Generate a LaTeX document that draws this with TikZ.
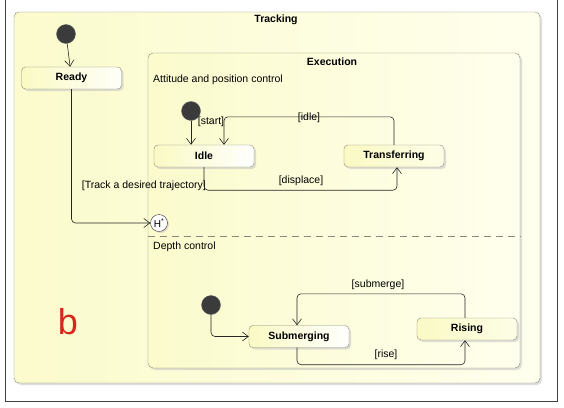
\documentclass[tikz,border=0pt]{standalone}
\usepackage{fontspec}
\setmainfont{Liberation Sans}
\usetikzlibrary{arrows.meta,shadows,calc}
\definecolor{frameline}{HTML}{404040}
\definecolor{boxline}{HTML}{8A8A7A}
\definecolor{yel}{HTML}{FAFAC4}
\definecolor{yelbg}{HTML}{FFFFE6}
\definecolor{bred}{HTML}{D42A1E}
\tikzset{
  container/.style={draw=boxline, rounded corners=5pt, left color=yel!85, right color=yelbg!70!white,
     drop shadow={shadow xshift=2pt, shadow yshift=-2pt, fill=black!25}},
  stbox/.style={draw=boxline, rounded corners=4pt, minimum width=100pt, minimum height=22pt,
     left color=yel, right color=white, font=\fontsize{10.5}{12}\selectfont\bfseries, inner sep=0pt,
     drop shadow={shadow xshift=2pt, shadow yshift=-2pt, fill=black!25}},
  initst/.style={circle, fill=black!77, draw=black!60, minimum size=19pt, inner sep=0pt},
  hist/.style={circle, draw=black!80, fill=white, minimum size=17pt, inner sep=0pt, font=\fontsize{10}{11}\selectfont,
     drop shadow={shadow xshift=1.5pt, shadow yshift=-1.5pt, fill=black!25}},
  trans/.style={draw=black!85, line width=0.6pt, rounded corners=4pt, -{Straight Barb[length=6pt,width=9pt]}},
  lbl/.style={font=\fontsize{10.5}{12}\selectfont, inner sep=0pt},
  ttl/.style={font=\fontsize{10.5}{12}\selectfont\bfseries, inner sep=0pt},
}
\begin{document}
\begin{tikzpicture}[x=1pt,y=-1pt]
\useasboundingbox (0,0) rectangle (564,407);
\fill[white] (0,0) rectangle (564,407);
\draw[frameline, line width=0.8pt] (5,-2) rectangle (557,401);
% Tracking container
\node[container, minimum width=526pt, minimum height=371pt, inner sep=0pt] (tracking) at (277,197.5) {};
\node[ttl] (trackingttl) at (276,20) {Tracking};
% Execution container
\node[container, minimum width=372pt, minimum height=315pt, inner sep=0pt] (execution) at (334,210.5) {};
\node[ttl] (executionttl) at (332,62) {Execution};
\draw[boxline, dash pattern=on 7pt off 5pt, line width=0.6pt] (execution.west |- 0,236) coordinate (dl) -- (execution.east |- 0,236) coordinate (dr);
\node[lbl, anchor=west] (apc) at (153,80) {Attitude and position control};
\node[lbl, anchor=west] (dc) at (153,247) {Depth control};
% top level
\node[initst] (init1) at (66,34) {};
\node[stbox, right color=white!90!yel] (ready) at (71.5,78) {Ready};
\node[hist] (hist) at (159,223) {H\textsuperscript{*}};
\draw[trans] (init1) -- (ready);
\draw[trans] (ready.south) |- (hist.west);
\node[lbl, anchor=east] (tracklbl) at (206,186) {[Track a desired trajectory]};
% attitude region
\node[initst] (init2) at (191,111) {};
\node[stbox] (idle) at (204,156) {Idle};
\node[stbox, right color=white!60!yel] (transferring) at (394,156) {Transferring};
\draw[trans] (init2) -- (init2 |- idle.north);
\node[lbl] (startlbl) at (211,122) {[start]};
\draw[trans] (transferring.north) -- ++(0,-28) -| ([xshift=20pt]idle.north);
\node[lbl] (idlelbl) at (309,118) {[idle]};
\draw[trans] (idle.south) -- ++(0,23) -| ([xshift=3pt]transferring.south);
\node[lbl] (displbl) at (301,181) {[displace]};
% depth region
\node[initst] (init3) at (211,305) {};
\node[stbox] (submerging) at (299,336.5) {Submerging};
\node[stbox, right color=white!60!yel] (rising) at (467,329) {Rising};
\draw[trans] (init3) |- (submerging.west);
\draw[trans] ([xshift=-2pt]submerging.south) -- ++(0,17) -| ([xshift=-2pt]rising.south);
\node[lbl] (riselbl) at (386,355) {[rise]};
\draw[trans] ([xshift=-2pt]rising.north) -- ++(0,-24) -| ([xshift=-2pt]submerging.north);
\node[lbl] (submlbl) at (378,285) {[submerge]};
\node[font=\fontsize{36}{40}\selectfont, text=bred, inner sep=0pt] (b) at (68,322) {b};
\end{tikzpicture}
\end{document}
